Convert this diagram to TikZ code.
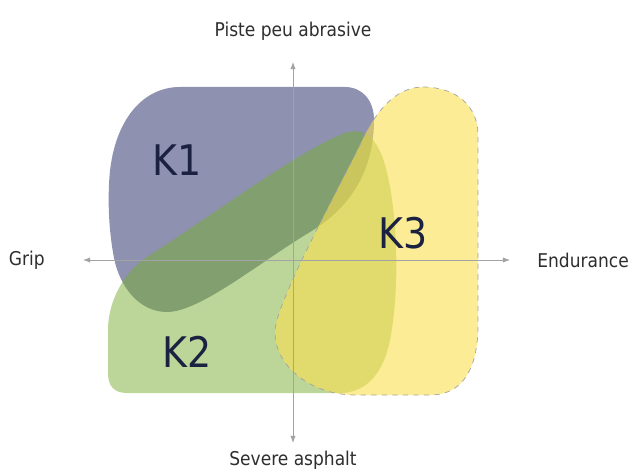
\documentclass[tikz,border=0pt]{standalone}
\usepackage{fontspec}
\setmainfont{DejaVu Sans Condensed}
\usetikzlibrary{positioning,arrows.meta}
\definecolor{axisgray}{HTML}{A3A3A3}
\definecolor{labelgray}{HTML}{2E2E2E}
\definecolor{kone}{HTML}{8E91AF}
\definecolor{ktwo}{RGB}{119,173,49}
\definecolor{kthree}{RGB}{250,223,80}
\definecolor{knavy}{HTML}{1B2140}

\begin{document}
\begin{tikzpicture}[
		x=0.02cm, y=-0.02cm,
		axis/.style={
			draw=axisgray,
			line width=0.5pt,
			{Latex[length=4pt,width=3pt]}-{Latex[length=4pt,width=3pt]}
		},
		axlabel/.style={
			font=\fontsize{10.8}{12}\selectfont,
			text=labelgray,
			inner sep=0pt
		},
		zonelabel/.style={
			font=\fontsize{24}{28}\selectfont,
			text=knavy,
			inner sep=0pt
		}
	]
		\useasboundingbox (0,0) rectangle (628,472);

		% zones
		\fill[kone] (180,87) -- (345,87)
			.. controls (362,87) and (374,100) .. (374,120)
			.. controls (374,165) and (355,205) .. (310,232)
			.. controls (260,262) and (200,312) .. (167,312)
			.. controls (140,312) and (120,288) .. (114,258)
			.. controls (109,232) and (108,205) .. (109,185)
			.. controls (111,125) and (140,87) .. (180,87) -- cycle;
		\fill[ktwo, fill opacity=0.5] (108,330)
			.. controls (108,300) and (125,270) .. (150,255)
			.. controls (220,210) and (300,150) .. (345,133)
			.. controls (365,126) and (378,140) .. (385,165)
			.. controls (398,210) and (400,290) .. (390,340)
			.. controls (383,375) and (365,393) .. (340,393)
			-- (127,393)
			.. controls (114,393) and (108,386) .. (108,373) -- cycle;
		\filldraw[fill=kthree, fill opacity=0.6, draw=axisgray,
			dashed, line width=0.4pt] (423,87)
			.. controls (455,87) and (478,105) .. (478,135)
			-- (478,325)
			.. controls (478,365) and (465,395) .. (430,395)
			-- (355,395)
			.. controls (313,395) and (275,368) .. (275,332)
			.. controls (275,305) and (330,205) .. (360,145)
			.. controls (375,112) and (395,87) .. (423,87) -- cycle;

		\node[zonelabel] (k1) at (177,160) {K1};
		\node[zonelabel] (k2) at (187,352) {K2};
		\node[zonelabel] (k3) at (403,233) {K3};

		% axes
		\coordinate (north) at (293,62);
		\coordinate (south) at (293,443);
		\coordinate (west) at (83,260);
		\coordinate (east) at (510,260);
		\draw[axis] (south) -- (north);
		\draw[axis] (west) -- (east);

		\node[axlabel, above=0.42cm of north] (piste) {Piste peu abrasive};
		\node[axlabel, below=0.15cm of south] (severe) {Severe asphalt};
		\node[axlabel, left=0.76cm of west] (grip) {Grip};
		\node[axlabel, right=0.54cm of east] (endurance) {Endurance};
	\end{tikzpicture}
\end{document}
